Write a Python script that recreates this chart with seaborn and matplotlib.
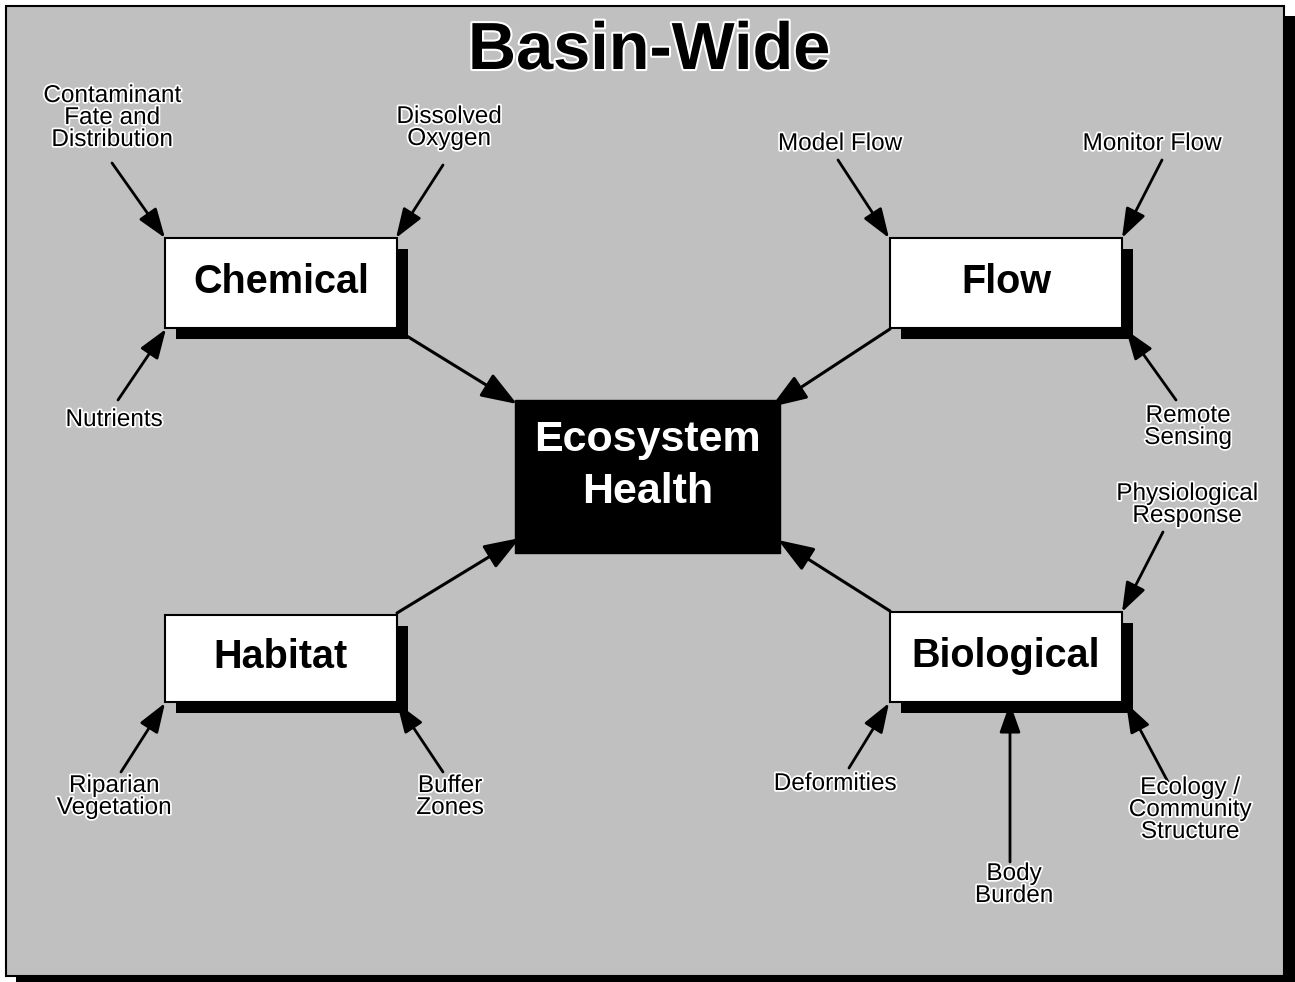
import matplotlib
matplotlib.use('Agg')
import matplotlib.pyplot as plt
import matplotlib.patheffects as pe
from matplotlib.patches import Rectangle, FancyArrowPatch
import seaborn as sns

sns.set_theme(style='white')
plt.rcParams['font.family'] = ['Liberation Sans', 'DejaVu Sans']

# diagram content (pixel layout of the original slide)
title = 'Basin-Wide'
center_label = 'Ecosystem\nHealth'
center_box = (515, 400, 780, 553)          # x0, y0, x1, y1

groups = ['Chemical', 'Flow', 'Habitat', 'Biological']
group_boxes = [(165, 238, 397, 328), (890, 238, 1122, 328),
               (165, 615, 397, 702), (890, 612, 1122, 702)]
group_arrows = [((397, 330), (517, 404)), ((890, 329), (771, 407)),
                ((397, 613), (520, 538)), ((890, 611), (778, 540))]

drivers = ['Contaminant\nFate and\nDistribution', 'Dissolved\nOxygen', 'Nutrients',
           'Model Flow', 'Monitor Flow', 'Remote\nSensing',
           'Physiological\nResponse', 'Deformities', 'Body\nBurden',
           'Ecology /\nCommunity\nStructure',
           'Riparian\nVegetation', 'Buffer\nZones']
driver_pos = [(112, 118), (449, 128), (114, 420),
              (840, 144), (1152, 144), (1188, 427),
              (1187, 505), (835, 784), (1014, 885),
              (1190, 810),
              (114, 797), (450, 797)]
driver_arrows = [((112, 163), (165, 238)), ((443, 165), (396, 238)), ((118, 400), (166, 329)),
                 ((838, 160), (889, 238)), ((1162, 160), (1122, 238)), ((1176, 400), (1126, 330)),
                 ((1163, 532), (1122, 612)), ((849, 768), (889, 703)), ((1010, 862), (1010, 703)),
                 ((1168, 782), (1126, 703)),
                 ((121, 772), (165, 703)), ((443, 772), (397, 703))]

W, H = 1295, 982
fig = plt.figure(figsize=(W / 100, H / 100), dpi=100)
fig.patch.set_facecolor('white')
ax = fig.add_axes([0, 0, 1, 1])
ax.set_xlim(0, W)
ax.set_ylim(H, 0)
ax.axis('off')

# slide frame with drop shadow
ax.add_patch(Rectangle((16, 16), W - 16, H - 16, facecolor='black', edgecolor='none', zorder=0))
ax.add_patch(Rectangle((6, 6), 1278, 970, facecolor='#c0c0c0', edgecolor='black', lw=1.5, zorder=1))

halo = [pe.withStroke(linewidth=2.5, foreground='white')]
ax.text(649, 52, title, ha='center', va='center', fontsize=48, fontweight='bold',
        color='black', path_effects=[pe.withStroke(linewidth=3, foreground='white')], zorder=5)


def arrow(p0, p1, lw=2.0, hl=0.9, hw=0.32):
    a = FancyArrowPatch(p0, p1, arrowstyle=f'-|>,head_length={hl},head_width={hw}',
                        mutation_scale=20, color='black', lw=lw, shrinkA=0, shrinkB=0, zorder=4)
    ax.add_patch(a)


# group boxes with shadows
for name, (x0, y0, x1, y1) in zip(groups, group_boxes):
    ax.add_patch(Rectangle((x0 + 11, y0 + 11), x1 - x0, y1 - y0, facecolor='black',
                           edgecolor='none', zorder=2))
    ax.add_patch(Rectangle((x0, y0), x1 - x0, y1 - y0, facecolor='white',
                           edgecolor='black', lw=1.5, zorder=3))
    ax.text((x0 + x1) / 2, (y0 + y1) / 2 - 1, name, ha='center', va='center',
            fontsize=28.5, fontweight='bold', color='black', zorder=5)

# central box
x0, y0, x1, y1 = center_box
ax.add_patch(Rectangle((x0, y0), x1 - x0, y1 - y0, facecolor='black', edgecolor='black', zorder=3))
ax.text((x0 + x1) / 2, 466, center_label, ha='center', va='center', fontsize=31,
        fontweight='bold', color='white', linespacing=1.4, zorder=5)

for p0, p1 in group_arrows:
    arrow(p0, p1, lw=2.2, hl=1.1, hw=0.4)

for label, (tx, ty), (p0, p1) in zip(drivers, driver_pos, driver_arrows):
    ax.text(tx, ty, label, ha='center', va='center', fontsize=17.5, color='black',
            linespacing=1.0, path_effects=halo, zorder=5)
    arrow(p0, p1)

fig.savefig('out.png', dpi=100, facecolor=fig.get_facecolor())
